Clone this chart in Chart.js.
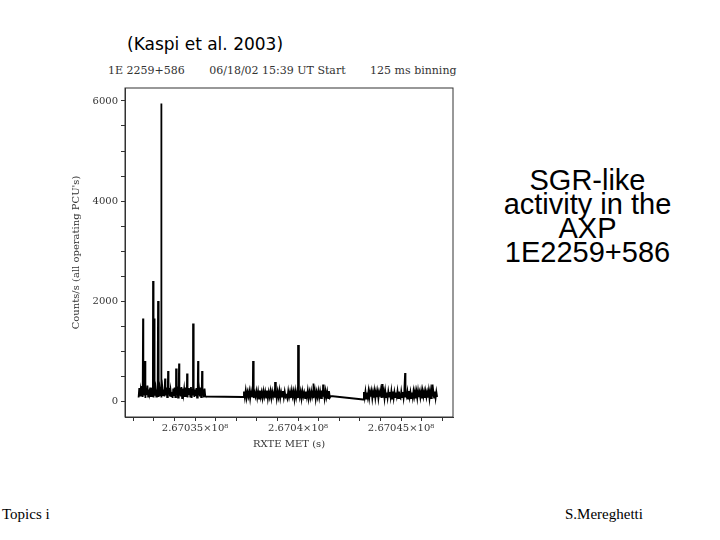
<!DOCTYPE html>
<html>
<head>
<meta charset="utf-8">
<script src="https://cdn.jsdelivr.net/npm/chart.js@4"></script>
<style>
  body { margin: 0; width: 720px; height: 540px; background: #fff; position: relative; overflow: hidden; }
  .txt { position: absolute; color: #000; white-space: nowrap; }
  #lc { position: absolute; left: 70px; top: 60px; }
</style>
</head>
<body>
<div class="txt" style="left:127px;top:34px;font:17px 'DejaVu Sans';">(Kaspi et al. 2003)</div>
<div class="txt" style="left:108px;top:64px;font:11px 'DejaVu Serif';color:#333;">1E 2259+586&nbsp;&nbsp;&nbsp;&nbsp;&nbsp;&nbsp;&nbsp;06/18/02 15:39 UT Start&nbsp;&nbsp;&nbsp;&nbsp;&nbsp;&nbsp;&nbsp;125 ms binning</div>
<div class="txt" style="left:480px;top:168px;width:215px;text-align:center;font:29px 'Liberation Sans';line-height:24px;">SGR-like<br>activity in the<br>AXP<br>1E2259+586</div>
<div class="txt" style="left:2px;top:506px;font:15px 'Liberation Serif';">Topics i</div>
<div class="txt" style="left:565px;top:506px;font:15px 'Liberation Serif';">S.Mereghetti</div>
<canvas id="lc" width="400" height="390"></canvas>
<script>
// segment starts (RXTE MET, s) and bin spacing of the plotted noise band
const segStarts = [267032260, 267037330, 267043160];
const segSteps = [33, 43, 37];
const seg1Counts = [70,260,90,220,110,300,80,240,130,280,60,250,120,310,90,230,150,270,80,260,100,240,70,290,110,250,90,230,140,270,80,240,100,280,70,260,120,230,90,250,110,270,80,240,130,260,90,220,100,180,
  60,250,100,270,80,230,120,290,70,240,110,260,90,280,60,250,130,240,80,270,100,230,70,260,120,250,90,280,60,240,110,270,80,230,100,260,70,250,120,240,90,270,80,260,110,230,70,250,100,90];
const seg2Counts = [80,190,70,210,60,180,90,200,50,190,80,210,60,170,90,200,70,190,50,210,80,180,60,200,90,190,70,210,50,180,80,200,60,190,90,170,70,200,50,190,80,210,60,180,90,200,70,190,80,110,
  50,200,80,180,60,210,90,190,40,200,70,180,60,210,80,190,50,200,90,170,60,190,80,210,50,180,70,200,90,190,60,210,40,180,80,200,70,190,60,210,90,180,50,200,80,190,60,200,70,100];
const seg3Counts = [30,180,70,190,50,170,80,200,60,180,90,190,50,170,70,200,60,180,80,190,50,170,90,200,60,180,70,190,50,200,80,170,60,190,90,180,70,200,50,190,60,180,80,170,90,200,60,190,70,
  50,190,80,180,60,200,70,170,90,190,50,200,80,180,60,170,70,200,90,190,50,180,60,200,80,170,70,190,50,200,90,180,60,190,80,170,70,200,50,190,60,180,90,200,70,190,60,180,80];
const spikeTimes = [267032476,267032573,267032961,267033010,267033204,267033350,267033544,267033690,267034078,267034224,267034612,267034903,267035146,267035340,267037815,267038883,267040000,267040728,267041214,267044078,267045194,267046505];
const spikeCounts = [1650,800,2400,1650,2000,5950,450,600,650,750,550,1550,800,600,800,380,1120,350,330,340,560,330];
const yTicks = [0, 2000, 4000, 6000];
const xLabels = {267035000: "2.67035×10⁸", 267040000: "2.6704×10⁸", 267045000: "2.67045×10⁸"};

const points = [];
[seg1Counts, seg2Counts, seg3Counts].forEach((counts, s) => {
  counts.forEach((c, i) => points.push({x: segStarts[s] + i * segSteps[s], y: c}));
});
spikeTimes.forEach((t, i) => points.push({x: t, y: spikeCounts[i]}));
points.sort((a, b) => a.x - b.x);

const serif = {family: "DejaVu Serif", size: 10};
new Chart(document.getElementById("lc"), {
  type: "line",
  data: {datasets: [{data: points, borderColor: "#000", borderWidth: 1.8, pointRadius: 0, tension: 0}]},
  options: {
    responsive: false, animation: false,
    layout: {padding: {top: 28, right: 17, left: 0, bottom: 0}},
    plugins: {legend: {display: false}, tooltip: {enabled: false}},
    scales: {
      x: {
        type: "linear", min: 267031600, max: 267047520,
        afterFit: (a) => { a.height = 33; },
        afterBuildTicks: (a) => {
          const t = []; for (let v = 267032000; v <= 267047000; v += 1000) t.push({value: v}); a.ticks = t;
        },
        ticks: {color: "#333", font: serif, maxRotation: 0, autoSkip: false, padding: 1,
          callback: (v) => xLabels[v] || ""},
        grid: {drawOnChartArea: false, color: "#333", tickLength: 4},
        border: {color: "#333"},
        title: {display: true, text: "RXTE MET (s)", color: "#333", font: serif, padding: 0}
      },
      y: {
        min: -320, max: 6260,
        afterFit: (a) => { a.width = 55; },
        afterBuildTicks: (a) => {
          const t = []; for (let v = 0; v <= 6000; v += 500) t.push({value: v}); a.ticks = t;
        },
        ticks: {color: "#333", font: serif, autoSkip: false, padding: 3,
          callback: (v) => yTicks.includes(v) ? String(v) : ""},
        grid: {drawOnChartArea: false, color: "#333", tickLength: 4},
        border: {color: "#333"},
        title: {display: true, text: "Counts/s (all operating PCU's)", color: "#333", font: serif, padding: 0}
      }
    }
  },
  plugins: [{
    id: "frame",
    afterDraw(c) {
      const a = c.chartArea, g = c.ctx;
      g.save(); g.strokeStyle = "#333"; g.lineWidth = 1;
      g.strokeRect(a.left, a.top, a.right - a.left, a.bottom - a.top);
      g.restore();
    }
  }]
});
</script>
</body>
</html>
